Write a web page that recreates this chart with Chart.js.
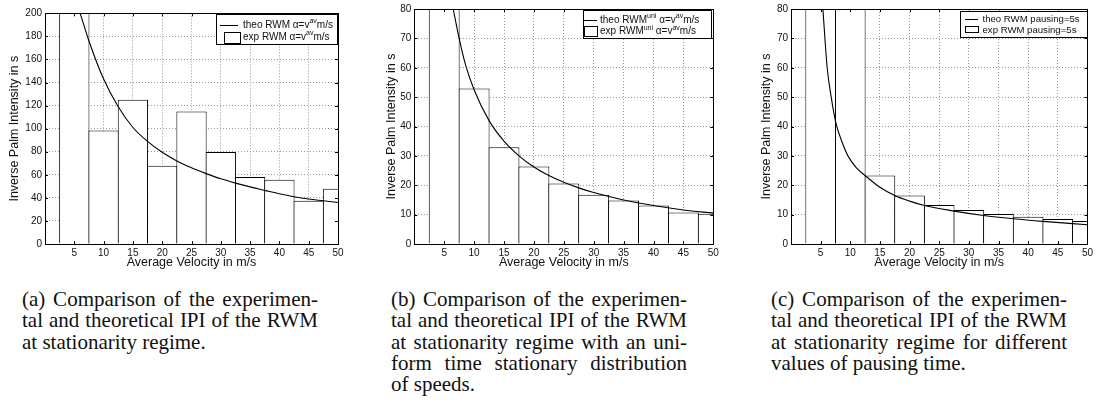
<!DOCTYPE html>
<html>
<head>
<meta charset="utf-8">
<script src="https://cdn.jsdelivr.net/npm/chart.js@4.4.1/dist/chart.umd.min.js"></script>
<style>
  body { margin: 0; background: #fff; width: 1096px; height: 407px; position: relative; overflow: hidden; }
  .panel { position: absolute; top: 0; }
  .cap { position: absolute; top: 289px; width: 296px; font-family: "Liberation Serif", serif; font-size: 21px; line-height: 21.3px; color: #111; }
  .cap div { text-align: justify; text-align-last: justify; white-space: nowrap; }
  .cap div.last { text-align: left; text-align-last: left; }
</style>
</head>
<body>
<canvas id="chartA" class="panel" style="left:0px" width="350" height="275"></canvas>
<canvas id="chartB" class="panel" style="left:377px" width="348" height="275"></canvas>
<canvas id="chartC" class="panel" style="left:752px" width="344" height="275"></canvas>

<div class="cap" style="left:22px">
  <div>(a) Comparison of the experimen-</div>
  <div>tal and theoretical IPI of the RWM</div>
  <div class="last">at stationarity regime.</div>
</div>
<div class="cap" style="left:391px">
  <div>(b) Comparison of the experimen-</div>
  <div>tal and theoretical IPI of the RWM</div>
  <div>at stationarity regime with an uni-</div>
  <div>form time stationary distribution</div>
  <div class="last">of speeds.</div>
</div>
<div class="cap" style="left:771px">
  <div>(c) Comparison of the experimen-</div>
  <div>tal and theoretical IPI of the RWM</div>
  <div>at stationarity regime for different</div>
  <div class="last">values of pausing time.</div>
</div>

<script>
// histogram bins (bin centres, m/s) and x tick labels
const velocityBins = [5, 10, 15, 20, 25, 30, 35, 40, 45, 50];
const xTickValues = [5, 10, 15, 20, 25, 30, 35, 40, 45, 50];

// (a) RWM, alpha = v_av  (first bin is off the scale, clipped)
const expIpiA = [250, 98.4, 125, 67.8, 114.9, 79.7, 58, 55.7, 37.5, 47.9];
const theoVelA = [6, 7.5, 10, 12.5, 15, 17.5, 20, 22.5, 25, 27.5, 30, 32.5, 35, 37.5, 40, 42.5, 45, 47.5, 50];
const theoIpiA = [200, 176, 143, 119, 101, 89, 79.5, 72, 66, 61, 56.5, 52.8, 49.5, 46.5, 43.5, 41, 39, 37.5, 36];

// (b) RWM uni
const expIpiB = [100, 52.9, 32.9, 26.4, 20.6, 16.8, 14.8, 13.1, 10.7, 10.3];
const theoVelB = [6.5, 7.5, 8.5, 10, 12.5, 15, 17.5, 20, 22.5, 25, 27.5, 30, 35, 40, 45, 50];
const theoIpiB = [80, 70, 61.5, 52.5, 42, 35, 30, 26.2, 23.3, 21, 19.1, 17.5, 15, 13.1, 11.6, 10.5];

// (c) RWM pausing = 5s
const expIpiC = [100, 100, 23.3, 16.5, 13.3, 11.6, 10.2, 9.3, 8.5, 7.8];
const theoVelC = [5.38, 5.72, 6.1, 6.78, 7.6, 8.5, 9.6, 11, 12.5, 15, 17.5, 20, 22.5, 27.5, 32.5, 37.5, 42.5, 50];
const theoIpiC = [80, 70, 60, 50, 41, 35.3, 30, 26, 23.3, 19.3, 16.5, 14.6, 13.1, 11.2, 9.7, 8.6, 7.7, 6.55];

// legend labels: [text, superscript?]
const legendText = {
  chartA: [[['theo RWM \u03b1=v'], ['av', 1], ['m/s']], [['exp RWM \u03b1=v'], ['av', 1], ['m/s']]],
  chartB: [[['theo RWM'], ['uni', 1], [' \u03b1=v'], ['av', 1], ['m/s']], [['exp RWM'], ['uni', 1], [' \u03b1=v'], ['av', 1], ['m/s']]],
  chartC: [[['theo RWM pausing=5s']], [['exp RWM pausing=5s']]]
};

// legend box geometry, canvas pixels
const legendBox = {
  chartA: { x: 216, y: 14, w: 121, h: 30, rows: [25, 37], line: [220, 238], box: [224, 31.5, 16, 10.5], tx: 243, size: 10 },
  chartB: { x: 205.5, y: 10, w: 128, h: 28, rows: [20, 31.5], line: [207, 220], box: [207, 26, 13, 10], tx: 223, size: 10 },
  chartC: { x: 208, y: 10.5, w: 127, h: 26, rows: [19, 30.5], line: [213, 226], box: [213, 26, 13, 6], tx: 230.5, size: 9.6 }
};

function drawRich(ctx, parts, x, y, size) {
  parts.forEach(p => {
    const sup = p[1];
    ctx.font = (sup ? size * 0.7 : size) + 'px "Liberation Sans"';
    ctx.fillText(p[0], x, sup ? y - size * 0.35 : y);
    x += ctx.measureText(p[0]).width;
  });
}

const framePlugin = {
  id: 'frame',
  afterDraw(chart) {
    const ctx = chart.ctx;
    const a = chart.chartArea;
    const sx = chart.scales.x, sy = chart.scales.y;
    ctx.save();
    ctx.strokeStyle = '#000';
    ctx.lineWidth = 1;
    ctx.beginPath();
    sx.ticks.forEach(t => {
      const px = Math.round(sx.getPixelForValue(t.value)) + 0.5;
      ctx.moveTo(px, a.bottom); ctx.lineTo(px, a.bottom - 3);
      ctx.moveTo(px, a.top); ctx.lineTo(px, a.top + 3);
    });
    sy.ticks.forEach(t => {
      const py = Math.round(sy.getPixelForValue(t.value)) + 0.5;
      ctx.moveTo(a.left, py); ctx.lineTo(a.left + 3, py);
      ctx.moveTo(a.right, py); ctx.lineTo(a.right - 3, py);
    });
    ctx.stroke();
    const l = Math.round(a.left) + 0.5, t = Math.round(a.top) + 0.5;
    ctx.strokeRect(l, t, Math.round(a.right) - Math.round(a.left), Math.round(a.bottom) - Math.round(a.top));

    // boxed legend
    const L = legendBox[chart.canvas.id];
    const texts = legendText[chart.canvas.id];
    ctx.fillStyle = '#fff';
    ctx.fillRect(L.x, L.y, L.w, L.h);
    ctx.strokeRect(Math.round(L.x) + 0.5, Math.round(L.y) + 0.5, Math.round(L.w), Math.round(L.h));
    ctx.beginPath();
    ctx.moveTo(L.line[0], Math.round(L.rows[0]) + 0.5);
    ctx.lineTo(L.line[1], Math.round(L.rows[0]) + 0.5);
    ctx.stroke();
    ctx.strokeRect(Math.round(L.box[0]) + 0.5, Math.round(L.box[1]) + 0.5, Math.round(L.box[2]), Math.round(L.box[3]));
    ctx.fillStyle = '#111';
    ctx.textBaseline = 'middle';
    ctx.textAlign = 'left';
    drawRich(ctx, texts[0], L.tx, L.rows[0], L.size);
    drawRich(ctx, texts[1], L.tx, L.rows[1], L.size);
    ctx.restore();
  }
};

const tickFont = { family: '"Liberation Sans"', size: 10 };
const titleFont = { family: '"Liberation Sans"', size: 12.5 };

function makeChart(id, bars, theoV, theoY, yMax, yStep, lay) {
  return new Chart(document.getElementById(id), {
    type: 'bar',
    data: {
      datasets: [
        {
          type: 'line',
          data: theoV.map((v, i) => ({ x: v, y: theoY[i] })),
          borderColor: '#000',
          borderWidth: 1.1,
          pointRadius: 0,
          cubicInterpolationMode: 'monotone',
          fill: false,
          order: 0
        },
        {
          type: 'bar',
          data: velocityBins.map((v, i) => ({ x: v, y: bars[i] })),
          backgroundColor: '#fff',
          borderColor: '#000',
          borderWidth: 1,
          barPercentage: lay.bp,
          categoryPercentage: 1,
          clip: 0,
          order: 1
        }
      ]
    },
    options: {
      responsive: false,
      animation: false,
      devicePixelRatio: 1,
      events: [],
      layout: { padding: { left: 0, top: lay.top, right: lay.right, bottom: 0 } },
      plugins: { legend: { display: false }, tooltip: { enabled: false } },
      scales: {
        x: {
          type: 'linear',
          min: 0,
          max: 50,
          offset: false,
          afterBuildTicks: s => { s.ticks = xTickValues.map(v => ({ value: v })); },
          afterFit: s => { s.height = 31; },
          grid: { color: '#9a9a9a', drawTicks: false, offset: false },
          border: { color: '#000', dash: [1, 2] },
          ticks: { padding: 3, font: tickFont, color: '#111', maxRotation: 0, autoSkip: false },
          title: { display: true, text: 'Average Velocity in m/s', font: titleFont, color: '#111', padding: { top: 0, bottom: 5 } }
        },
        y: {
          min: 0,
          max: yMax,
          afterFit: s => { s.width = lay.yw; },
          grid: { color: '#9a9a9a', drawTicks: false },
          border: { color: '#000', dash: [1, 2] },
          ticks: { stepSize: yStep, padding: 3, font: tickFont, color: '#111', autoSkip: false },
          title: { display: true, text: 'Inverse Palm Intensity in s', font: titleFont, color: '#111', padding: { top: 7.5, bottom: 0 } }
        }
      }
    },
    plugins: [framePlugin]
  });
}

makeChart('chartA', expIpiA, theoVelA, theoIpiA, 200, 20, { top: 13.3, right: 12, yw: 45, bp: 1.034 });
makeChart('chartB', expIpiB, theoVelB, theoIpiB, 80, 10, { top: 8.3, right: 11.7, yw: 37.3, bp: 1.033 });
makeChart('chartC', expIpiC, theoVelC, theoIpiC, 80, 10, { top: 8.3, right: 6, yw: 39, bp: 1.033 });
</script>
</body>
</html>
